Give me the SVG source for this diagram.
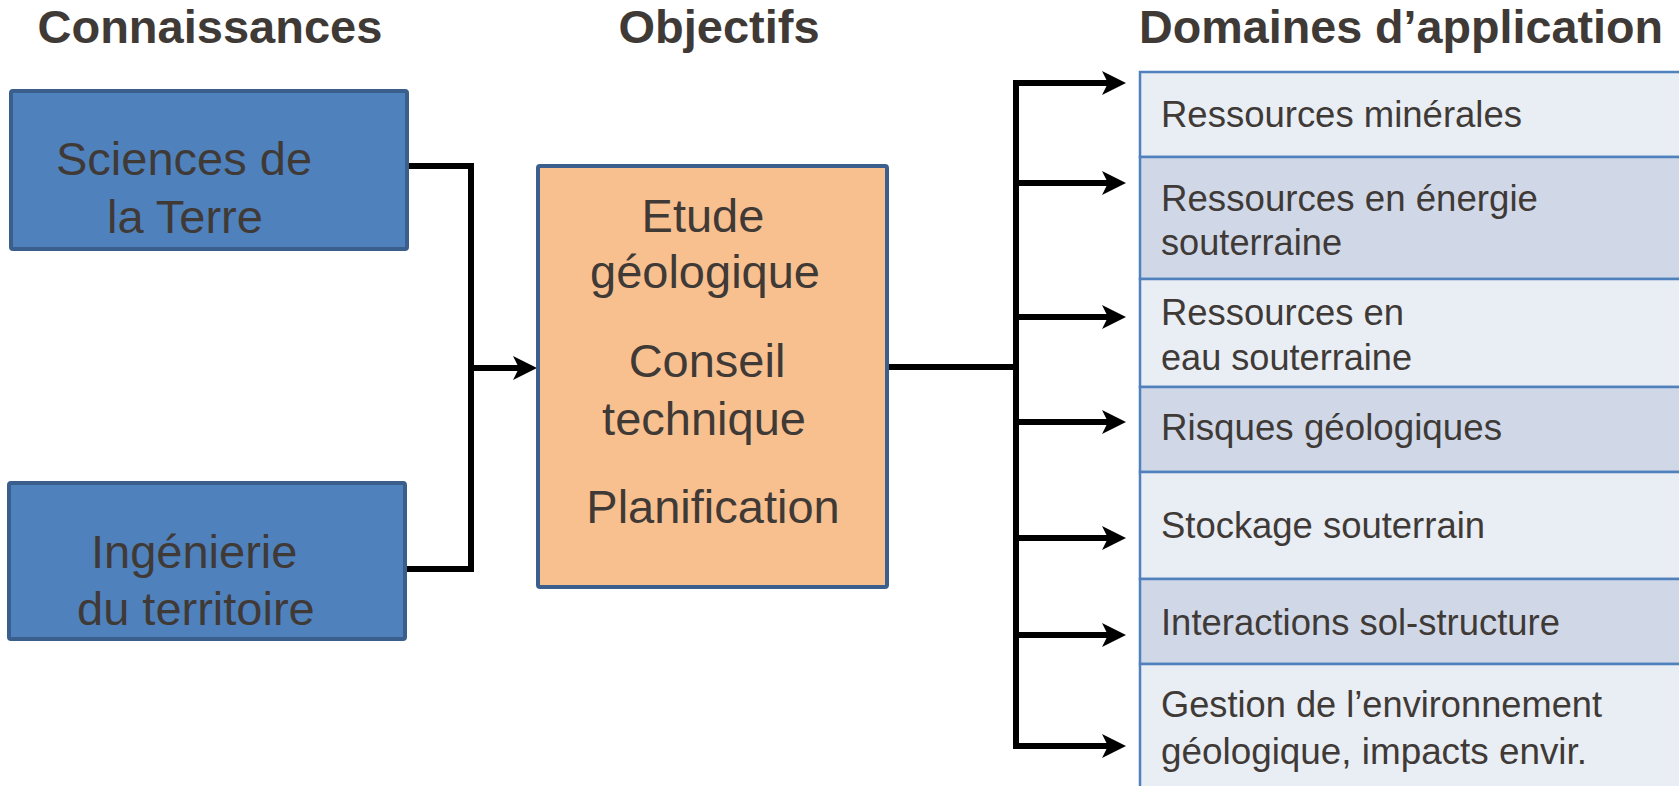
<svg xmlns="http://www.w3.org/2000/svg" width="1679" height="786" viewBox="0 0 1679 786">
<style>
.h{font-family:"Liberation Sans",Arial,sans-serif;font-weight:bold;font-size:47px;fill:#403A37}
.bt{font-family:"Liberation Sans",Arial,sans-serif;font-size:47px;fill:#403A37}
.ct{font-family:"Liberation Sans",Arial,sans-serif;font-size:47px;fill:#403A37;text-anchor:middle}
.rt{font-family:"Liberation Sans",Arial,sans-serif;font-size:36.5px;fill:#403A37}
.blue{fill:#4F81BD;stroke:#3B5F8C;stroke-width:4}
.orange{fill:#F9C08F;stroke:#3B5F8C;stroke-width:4}
.light{fill:#E9EDF4;stroke:#4F81BD;stroke-width:2.5}
.dark{fill:#D0D8E8;stroke:#4F81BD;stroke-width:2.5}
.c{fill:none;stroke:#000;stroke-width:6}
</style>
<defs>
<marker id="ah" markerUnits="userSpaceOnUse" viewBox="0 -13 25 26" refX="8" refY="0" markerWidth="25" markerHeight="26" orient="auto">
<path d="M0,-12 L24,0 L0,12 L6,0 Z" fill="#000"/>
</marker>
</defs>
<rect width="1679" height="786" fill="#fff"/>
<g id="headings">
<text class="h" x="37.5" y="43">Connaissances</text>
<text class="h" x="719" y="43" text-anchor="middle">Objectifs</text>
<text class="h" x="1139" y="43" textLength="524" lengthAdjust="spacingAndGlyphs">Domaines d’application</text>
</g>
<g id="connectors">
<path class="c" d="M407,166 H471 V569 H405"/>
<path class="c" d="M471,368 H521" marker-end="url(#ah)"/>
<path class="c" d="M888,367 H1016"/>
<path class="c" d="M1016,80 V749"/>
<path class="c" d="M1016,83 H1110" marker-end="url(#ah)"/>
<path class="c" d="M1016,183 H1110" marker-end="url(#ah)"/>
<path class="c" d="M1016,317 H1110" marker-end="url(#ah)"/>
<path class="c" d="M1016,422 H1110" marker-end="url(#ah)"/>
<path class="c" d="M1016,538 H1110" marker-end="url(#ah)"/>
<path class="c" d="M1016,635 H1110" marker-end="url(#ah)"/>
<path class="c" d="M1016,746 H1110" marker-end="url(#ah)"/>
</g>
<g id="sciences-terre">
<rect class="blue" x="11" y="91" width="396" height="158" rx="2"/>
<text class="bt" x="56" y="175">Sciences de</text>
<text class="bt" x="107" y="233">la Terre</text>
</g>
<g id="ingenierie-territoire">
<rect class="blue" x="9" y="483" width="396" height="156" rx="2"/>
<text class="bt" x="91" y="568">Ingénierie</text>
<text class="bt" x="77" y="625">du territoire</text>
</g>
<g id="objectifs">
<rect class="orange" x="538" y="166" width="349" height="421" rx="2"/>
<text class="ct" x="703" y="232">Etude</text>
<text class="ct" x="705" y="288">géologique</text>
<text class="ct" x="707" y="377">Conseil</text>
<text class="ct" x="704" y="435">technique</text>
<text class="ct" x="713" y="523">Planification</text>
</g>
<g id="domaines">
<g id="d1"><rect class="light" x="1140" y="72" width="600" height="85"/>
<text class="rt" x="1161" y="127" textLength="361" lengthAdjust="spacingAndGlyphs">Ressources minérales</text></g>
<g id="d2"><rect class="dark" x="1140" y="157" width="600" height="122"/>
<text class="rt" x="1161" y="211" textLength="377" lengthAdjust="spacingAndGlyphs">Ressources en énergie</text>
<text class="rt" x="1161" y="255" textLength="181" lengthAdjust="spacingAndGlyphs">souterraine</text></g>
<g id="d3"><rect class="light" x="1140" y="279" width="600" height="108"/>
<text class="rt" x="1161" y="325" textLength="243" lengthAdjust="spacingAndGlyphs">Ressources en</text>
<text class="rt" x="1161" y="370" textLength="251" lengthAdjust="spacingAndGlyphs">eau souterraine</text></g>
<g id="d4"><rect class="dark" x="1140" y="387" width="600" height="85"/>
<text class="rt" x="1161" y="440" textLength="341" lengthAdjust="spacingAndGlyphs">Risques géologiques</text></g>
<g id="d5"><rect class="light" x="1140" y="472" width="600" height="107"/>
<text class="rt" x="1161" y="538" textLength="324" lengthAdjust="spacingAndGlyphs">Stockage souterrain</text></g>
<g id="d6"><rect class="dark" x="1140" y="579" width="600" height="85"/>
<text class="rt" x="1161" y="635" textLength="399" lengthAdjust="spacingAndGlyphs">Interactions sol-structure</text></g>
<g id="d7"><rect class="light" x="1140" y="664" width="600" height="140"/>
<text class="rt" x="1161" y="717" textLength="441" lengthAdjust="spacingAndGlyphs">Gestion de l’environnement</text>
<text class="rt" x="1161" y="764" textLength="426" lengthAdjust="spacingAndGlyphs">géologique, impacts envir.</text></g>
</g>
</svg>
